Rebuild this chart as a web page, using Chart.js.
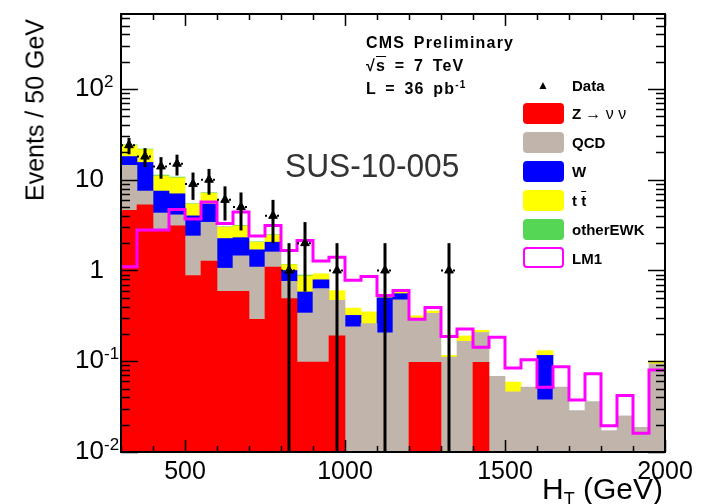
<!DOCTYPE html>
<html>
<head>
<meta charset="utf-8">
<script src="https://cdn.jsdelivr.net/npm/chart.js@4.4.1/dist/chart.umd.min.js"></script>
<style>
  body { margin: 0; background: #fff; }
  #wrap { position: relative; width: 702px; height: 504px; font-family: "Liberation Sans", Arial, Helvetica, sans-serif; color: #000; }
  #wrap canvas { position: absolute; left: 0; top: 0; }
  .txt { position: absolute; white-space: nowrap; line-height: 1; }
  .cms { left: 366px; font-size: 16px; font-weight: bold; letter-spacing: 1.2px; word-spacing: 3px; }
  .leg-box { position: absolute; left: 523px; width: 41px; height: 21px; border-radius: 4px; }
  .leg-lab { position: absolute; left: 572px; font-size: 15px; font-weight: bold; line-height: 1; }
</style>
</head>
<body>
<div id="wrap">
  <canvas id="htChart" width="702" height="504"></canvas>

  <div class="txt" style="left:35px; top:110px; font-size:25px; transform: translate(-50%, -50%) rotate(-90deg);">Events / 50 GeV</div>
  <div class="txt" style="right:39px; top:474px; font-size:30px;">H<sub style="font-size:18px; vertical-align:-6px;">T</sub> (GeV)</div>

  <div class="txt cms" style="top:35px;">CMS Preliminary</div>
  <div class="txt cms" style="top:58px;">&radic;<span style="text-decoration: overline;">s</span> = 7 TeV</div>
  <div class="txt cms" style="top:80px;">L = 36 pb<sup style="font-size:10px;">-1</sup></div>

  <div class="txt" style="left:285px; top:149px; font-size:33px; color:#333; transform: scaleX(0.96); transform-origin: left top;">SUS-10-005</div>

  <!-- legend -->
  <div class="txt" style="left:537px; top:79px; font-size:12px;">&#9650;</div>
  <div class="leg-lab" style="top:78px;">Data</div>
  <div class="leg-box" style="top:103px; background:#ff0000;"></div>
  <div class="leg-lab" style="top:106px;">Z <span style="font-weight:normal; font-size:16px;">&rarr; &nu; &nu;</span></div>
  <div class="leg-box" style="top:132px; background:#c1b5ab;"></div>
  <div class="leg-lab" style="top:135px;">QCD</div>
  <div class="leg-box" style="top:161px; background:#0000ff;"></div>
  <div class="leg-lab" style="top:164px;">W</div>
  <div class="leg-box" style="top:190px; background:#ffff00;"></div>
  <div class="leg-lab" style="top:193px;">t <span style="text-decoration: overline;">t</span></div>
  <div class="leg-box" style="top:219px; background:#55d655;"></div>
  <div class="leg-lab" style="top:222px;">otherEWK</div>
  <div class="leg-box" style="top:247px; width:37px; height:17px; border:2px solid #ff00ff; background:#fff;"></div>
  <div class="leg-lab" style="top:251px;">LM1</div>
</div>

<script>
// H_T bins (GeV), lower edges, 50 GeV wide
const binLow = [300, 350, 400, 450, 500, 550, 600, 650, 700, 750,
                800, 850, 900, 950, 1000, 1050, 1100, 1150, 1200, 1250,
                1300, 1350, 1400, 1450, 1500, 1550, 1600, 1650, 1700, 1750,
                1800, 1850, 1900, 1950];
const binWidth = 50;

// background predictions, events per bin
const zNuNu = [4.6, 5.3, 2.8, 3.1, 0.88, 1.27, 0.59, 0.59, 0.29, 1.09,
               0.49, 0.098, 0.098, 0.19, 0, 0, 0, 0, 0.0975, 0.0975,
               0, 0, 0.0975, 0, 0, 0, 0, 0, 0, 0,
               0, 0, 0, 0];
const qcd = [9.8, 2.2, 1.5, 1.0, 1.52, 2.13, 0.47, 0.86, 0.80, 0.51,
             0.27, 0.242, 0.532, 0.28, 0.24, 0.26, 0.205, 0.475, 0.19, 0.24,
             0.111, 0.166, 0.11, 0.068, 0.046, 0.052, 0.0375, 0.052, 0.0286, 0.036,
             0.0172, 0.025, 0.0187, 0.0935];
const wJets = [3.6, 8.0, 3.2, 2.9, 1.6, 2.0, 1.19, 0.85, 0.6, 0.45,
               0.24, 0.24, 0.16, 0, 0.08, 0, 0.295, 0.08, 0, 0,
               0, 0, 0, 0, 0, 0, 0.0785, 0, 0, 0,
               0, 0, 0, 0];
const ttbar = [6.0, 6.0, 3.5, 3.5, 1.4, 1.7, 0.75, 0.8, 0.36, 0.4,
               0.16, 0.29, 0.13, 0.13, 0.065, 0.09, 0.04, 0.025, 0.03, 0.02,
               0.005, 0.024, 0.012, 0, 0.013, 0, 0.015, 0, 0, 0,
               0, 0, 0, 0.0065];
const otherEWK = [0.3, 0.3, 0.25, 0.2, 0.05, 0.1, 0.03, 0.05, 0.02, 0.03,
                  0.01, 0.02, 0, 0, 0, 0, 0, 0, 0, 0,
                  0, 0, 0, 0, 0, 0, 0, 0, 0, 0,
                  0, 0, 0, 0];

// LM1 signal point
const lm1 = [1.1, 2.8, 2.8, 4.7, 3.7, 5.7, 3.3, 4.4, 2.4, 3.13,
             1.66, 2.14, 1.27, 1.4, 0.78, 0.86, 0.53, 0.60, 0.29, 0.39,
             0.187, 0.227, 0.143, 0.184, 0.0845, 0.104, 0.0517, 0.087, 0.0375, 0.0726,
             0.0195, 0.0419, 0.0161, 0.080];

// observed events
const dataCounts = [24, 18, 14, 15, 9, 10, 6, 5, 0, 4,
                    1, 2, 0, 1, 0, 0, 1, 0, 0, 0,
                    1, 0, 0, 0, 0, 0, 0, 0, 0, 0,
                    0, 0, 0, 0];

const yTickValues = [0.01, 0.1, 1, 10, 100];
const yTickBase = ['10', '10', '1', '10', '10'];
const yTickExp = ['-2', '-1', '', '', '2'];
const xTickValues = [500, 1000, 1500, 2000];

const binCentres = binLow.map(lo => lo + binWidth / 2);
const barPoints = vals => binCentres.map((x, i) => ({ x: x, y: vals[i] }));

const lm1Points = binLow.map((lo, i) => ({ x: lo, y: lm1[i] }));
lm1Points.push({ x: binLow[binLow.length - 1] + binWidth, y: lm1[lm1.length - 1] });

const dataPoints = binCentres
  .map((x, i) => ({ x: x, y: dataCounts[i] }))
  .filter(p => p.y > 0);

function barSet(label, vals, colour) {
  return {
    type: 'bar', label: label, data: barPoints(vals),
    backgroundColor: colour, borderWidth: 0,
    barPercentage: 1.0, categoryPercentage: 1.0, order: 3
  };
}

// keep the frame where the layout padding puts it
function noEdgePadding(s) {
  s.paddingTop = 0; s.paddingBottom = 0;
  s.paddingLeft = 0; s.paddingRight = 0;
}

// ROOT-style frame: inward ticks on all four sides, Poisson error bars on the data
const frameAndErrors = {
  id: 'frameAndErrors',
  afterDatasetsDraw(chart) {
    const { ctx, chartArea: a, scales: { x, y } } = chart;
    ctx.save();

    // data error bars
    ctx.strokeStyle = '#000';
    dataPoints.forEach(p => {
      const px = x.getPixelForValue(p.x);
      const py = y.getPixelForValue(p.y);
      const err = Math.sqrt(p.y);
      const top = y.getPixelForValue(p.y + err);
      const lowVal = p.y - err;
      const bottom = lowVal > 0 ? y.getPixelForValue(lowVal) : a.bottom;
      ctx.lineWidth = 3;
      ctx.setLineDash([]);
      ctx.beginPath();
      ctx.moveTo(px, top);
      ctx.lineTo(px, Math.min(bottom, a.bottom));
      ctx.stroke();
      ctx.lineWidth = 2;
      ctx.setLineDash([2, 4]);
      ctx.beginPath();
      ctx.moveTo(x.getPixelForValue(p.x - binWidth / 2), py);
      ctx.lineTo(x.getPixelForValue(p.x + binWidth / 2), py);
      ctx.stroke();
    });
    ctx.setLineDash([]);

    // y ticks, log decades with minors
    ctx.lineWidth = 1.5;
    ctx.beginPath();
    for (let dec = 0.01; dec < y.max; dec *= 10) {
      for (let m = 1; m <= 9; m++) {
        const v = dec * m;
        if (v > y.max) break;
        const py = Math.round(y.getPixelForValue(v)) + 0.5;
        const len = m === 1 ? 17 : 9;
        ctx.moveTo(a.left, py); ctx.lineTo(a.left + len, py);
        ctx.moveTo(a.right, py); ctx.lineTo(a.right - len, py);
      }
    }
    // x ticks every 100 GeV
    for (let v = 300; v <= 2000; v += 100) {
      const px = Math.round(x.getPixelForValue(v)) + 0.5;
      const len = v % 500 === 0 ? 12 : 6;
      ctx.moveTo(px, a.bottom); ctx.lineTo(px, a.bottom - len);
      ctx.moveTo(px, a.top); ctx.lineTo(px, a.top + len);
    }
    ctx.stroke();

    ctx.lineWidth = 2;
    ctx.strokeRect(a.left, a.top, a.right - a.left, a.bottom - a.top);
    ctx.restore();
  },
  // exponents next to the "10" tick labels
  afterDraw(chart) {
    const { ctx, scales: { y } } = chart;
    ctx.save();
    ctx.fillStyle = '#000';
    ctx.font = '17px "Liberation Sans"';
    ctx.textAlign = 'left';
    ctx.textBaseline = 'alphabetic';
    yTickValues.forEach((v, i) => {
      if (!yTickExp[i]) return;
      ctx.fillText(yTickExp[i], 104, y.getPixelForValue(v) - 2);
    });
    ctx.restore();
  }
};

new Chart(document.getElementById('htChart'), {
  data: {
    datasets: [
      barSet('Z \u2192 \u03BD \u03BD', zNuNu, '#ff0000'),
      barSet('QCD', qcd, '#c1b5ab'),
      barSet('W', wJets, '#0000ff'),
      barSet('t t\u0304', ttbar, '#ffff00'),
      barSet('otherEWK', otherEWK, '#55d655'),
      {
        type: 'line', label: 'LM1', data: lm1Points, stack: 'lm1',
        stepped: 'before', borderColor: '#ff00ff', borderWidth: 3,
        pointRadius: 0, fill: false, order: 2
      },
      {
        type: 'scatter', label: 'Data', data: dataPoints, stack: 'obs',
        pointStyle: 'triangle', pointRadius: 5,
        backgroundColor: '#000', borderColor: '#000', order: 1
      }
    ]
  },
  options: {
    responsive: false,
    animation: false,
    devicePixelRatio: 1,
    layout: { padding: { left: 0, right: 37, top: 14, bottom: 0 } },
    plugins: {
      legend: { display: false },
      tooltip: { enabled: false }
    },
    scales: {
      x: {
        type: 'linear', min: 300, max: 2000, offset: false, stacked: true,
        grid: { display: false, drawTicks: false },
        border: { display: false },
        afterBuildTicks: s => { s.ticks = xTickValues.map(v => ({ value: v })); },
        afterFit: s => { s.height = 52; noEdgePadding(s); },
        ticks: {
          autoSkip: false, maxRotation: 0, padding: 5, color: '#000',
          font: { family: 'Liberation Sans', size: 25 },
          callback: v => String(v)
        }
      },
      y: {
        type: 'logarithmic', min: 0.01, max: 670, stacked: true,
        grid: { display: false, drawTicks: false },
        border: { display: false },
        afterBuildTicks: s => { s.ticks = yTickValues.map(v => ({ value: v })); },
        afterFit: s => { s.width = 121; noEdgePadding(s); },
        ticks: {
          padding: 17, color: '#000',
          font: { family: 'Liberation Sans', size: 26 },
          callback: v => yTickBase[yTickValues.indexOf(v)]
        }
      }
    }
  },
  plugins: [frameAndErrors]
});
</script>
</body>
</html>
